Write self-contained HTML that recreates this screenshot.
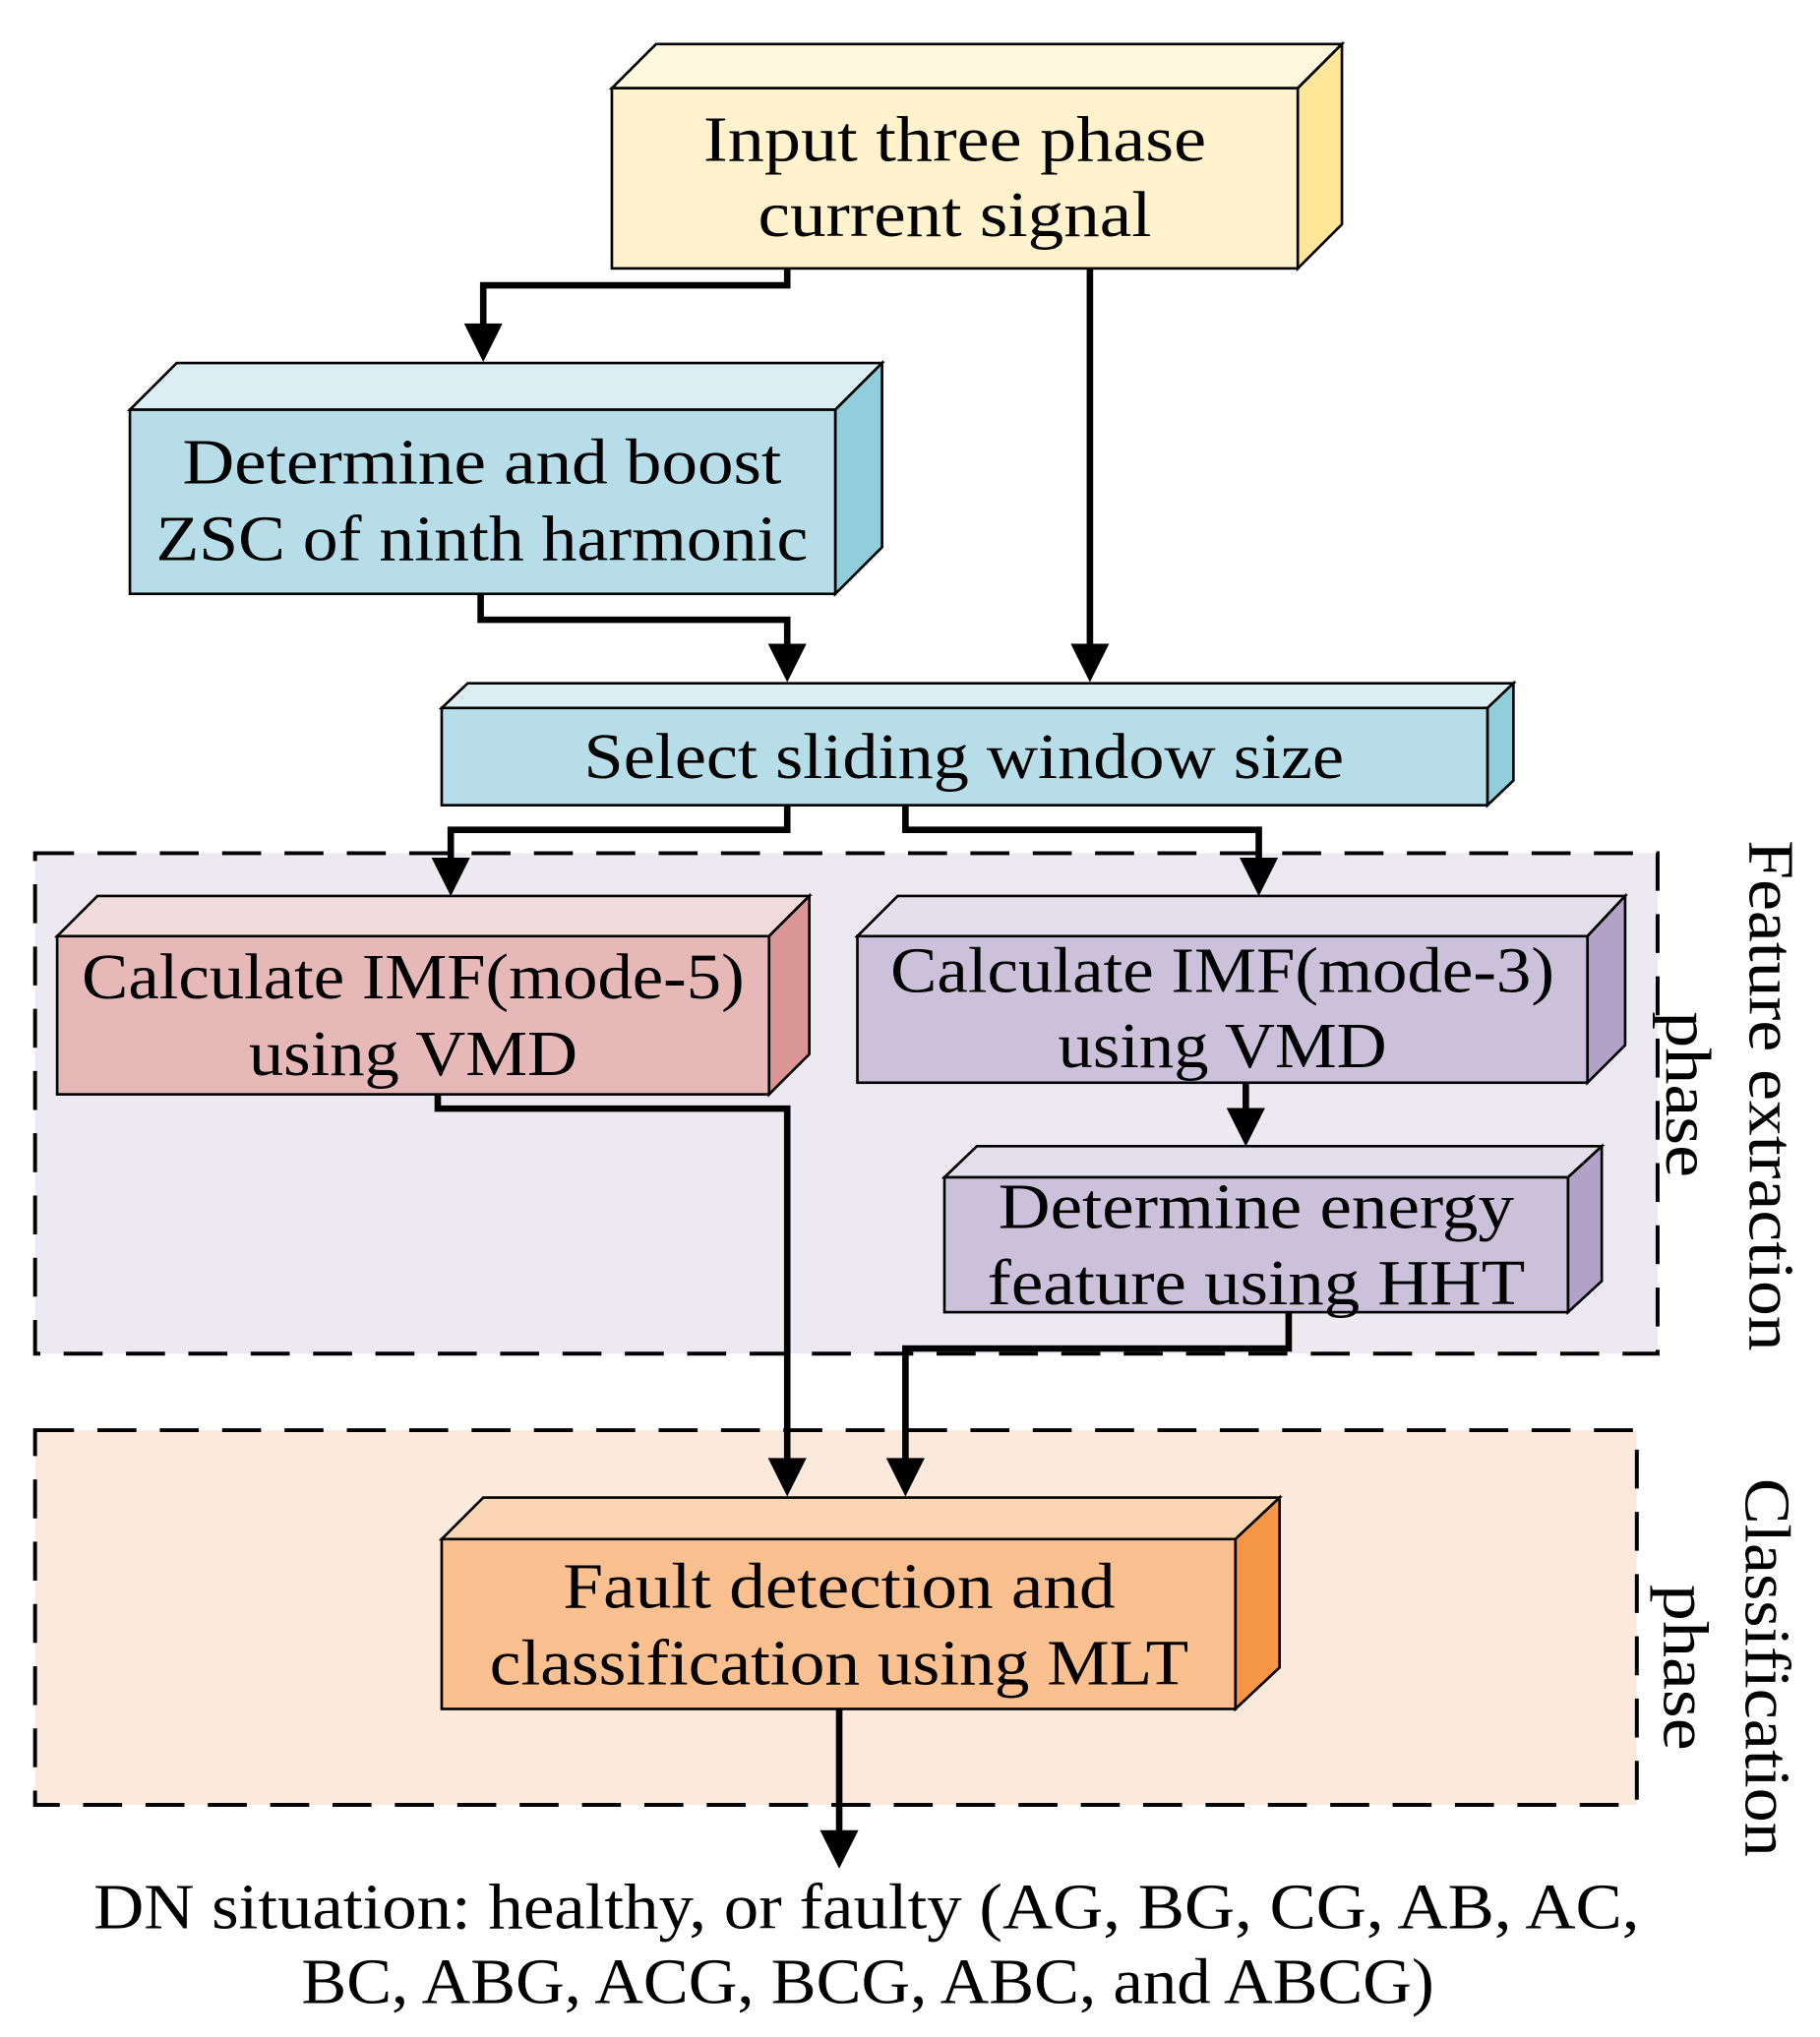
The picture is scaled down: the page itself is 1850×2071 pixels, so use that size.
<!DOCTYPE html>
<html><head><meta charset="utf-8"><style>html,body{margin:0;padding:0;background:#fff}svg{display:block}</style></head><body>
<svg width="1850" height="2071" viewBox="0 0 1401 1571" preserveAspectRatio="none" xmlns="http://www.w3.org/2000/svg" font-family="Liberation Serif, serif" font-size="50">
<rect x="27" y="658" width="1249" height="386" fill="#ECE9F1" stroke="#000" stroke-width="3" stroke-dasharray="30,18"/>
<rect x="27" y="1103" width="1233" height="289" fill="#FBE9DB" stroke="#000" stroke-width="3" stroke-dasharray="30,18"/>
<g stroke="#000" stroke-width="2">
<polygon points="471,68 505,34 1033,34 999,68" fill="#FFF7DD"/><polygon points="999,68 1033,34 1033,173 999,207" fill="#FFE699"/><rect x="471" y="68" width="528" height="139" fill="#FFF2CC"/>
<polygon points="100,316 136,280 679,280 643,316" fill="#DAEEF3"/><polygon points="643,316 679,280 679,422 643,458" fill="#92CDDC"/><rect x="100" y="316" width="543" height="142" fill="#B7DEE8"/>
<polygon points="340,546 360,527 1165,527 1145,546" fill="#DAEEF3"/><polygon points="1145,546 1165,527 1165,602 1145,621" fill="#92CDDC"/><rect x="340" y="546" width="805" height="75" fill="#B7DEE8"/>
<polygon points="44,722 75,691 623,691 592,722" fill="#F2DCDB"/><polygon points="592,722 623,691 623,813 592,844" fill="#D99694"/><rect x="44" y="722" width="548" height="122" fill="#E6B9B8"/>
<polygon points="660,722 691,691 1251,691 1222,722" fill="#E4DFEC"/><polygon points="1222,722 1251,691 1251,806 1222,835" fill="#B3A2C7"/><rect x="660" y="722" width="562" height="113" fill="#CCC1DA"/>
<polygon points="727,908 752,884 1233,884 1207,908" fill="#E4DFEC"/><polygon points="1207,908 1233,884 1233,988 1207,1012" fill="#B3A2C7"/><rect x="727" y="908" width="480" height="104" fill="#CCC1DA"/>
<polygon points="340,1187 372,1155 985,1155 951,1187" fill="#FCD5B5"/><polygon points="951,1187 985,1155 985,1286 951,1318" fill="#F79646"/><rect x="340" y="1187" width="611" height="131" fill="#FAC090"/>
</g>
<g fill="none" stroke="#000" stroke-width="5">
<polyline points="606,207 606,220 372,220 372,260"/>
<polyline points="839,207 839,505"/>
<polyline points="370,458 370,478 606,478 606,505"/>
<polyline points="606,621 606,640 347,640 347,672"/>
<polyline points="697,621 697,640 969,640 969,672"/>
<polyline points="959,835 959,865"/>
<polyline points="337,844 337,855 606,855 606,1135"/>
<polyline points="992,1012 992,1040 697,1040 697,1135"/>
<polyline points="646,1318 646,1422"/>
</g>
<g fill="#000" stroke="#000" stroke-width="1">
<path d="M358,250 L386,250 L372,278z"/><path d="M825,497 L853,497 L839,525z"/><path d="M592,497 L620,497 L606,525z"/>
<path d="M333,662 L361,662 L347,690z"/><path d="M955,662 L983,662 L969,690z"/><path d="M945,855 L973,855 L959,883z"/>
<path d="M592,1125 L620,1125 L606,1153z"/><path d="M683,1125 L711,1125 L697,1153z"/><path d="M632,1412 L660,1412 L646,1440z"/>
</g>
<g text-anchor="middle" fill="#000">
<text x="735" y="124" textLength="387" lengthAdjust="spacingAndGlyphs">Input three phase</text><text x="735" y="182" textLength="303" lengthAdjust="spacingAndGlyphs">current signal</text>
<text x="371" y="373" textLength="461" lengthAdjust="spacingAndGlyphs">Determine and boost</text><text x="371" y="432" textLength="502" lengthAdjust="spacingAndGlyphs">ZSC of ninth harmonic</text>
<text x="742" y="600" textLength="585" lengthAdjust="spacingAndGlyphs">Select sliding window size</text>
<text x="318" y="770" textLength="510" lengthAdjust="spacingAndGlyphs">Calculate IMF(mode-5)</text><text x="318" y="829" textLength="253" lengthAdjust="spacingAndGlyphs">using VMD</text>
<text x="941" y="765" textLength="511" lengthAdjust="spacingAndGlyphs">Calculate IMF(mode-3)</text><text x="941" y="823" textLength="253" lengthAdjust="spacingAndGlyphs">using VMD</text>
<text x="967" y="947" textLength="397" lengthAdjust="spacingAndGlyphs">Determine energy</text><text x="967" y="1006" textLength="414" lengthAdjust="spacingAndGlyphs">feature using HHT</text>
<text x="646" y="1240" textLength="425" lengthAdjust="spacingAndGlyphs">Fault detection and</text><text x="646" y="1299" textLength="538" lengthAdjust="spacingAndGlyphs">classification using MLT</text>
<text x="667" y="1487" textLength="1190" lengthAdjust="spacingAndGlyphs">DN situation: healthy, or faulty (AG, BG, CG, AB, AC,</text>
<text x="668" y="1545" textLength="872" lengthAdjust="spacingAndGlyphs">BC, ABG, ACG, BCG, ABC, and ABCG)</text>
<text transform="translate(1347,845) rotate(90)" textLength="394" lengthAdjust="spacingAndGlyphs">Feature extraction</text>
<text transform="translate(1283,844) rotate(90)" textLength="128" lengthAdjust="spacingAndGlyphs">phase</text>
<text transform="translate(1344,1286) rotate(90)" textLength="292" lengthAdjust="spacingAndGlyphs">Classification</text>
<text transform="translate(1281,1286) rotate(90)" textLength="128" lengthAdjust="spacingAndGlyphs">phase</text>
</g>
</svg>
</body></html>
